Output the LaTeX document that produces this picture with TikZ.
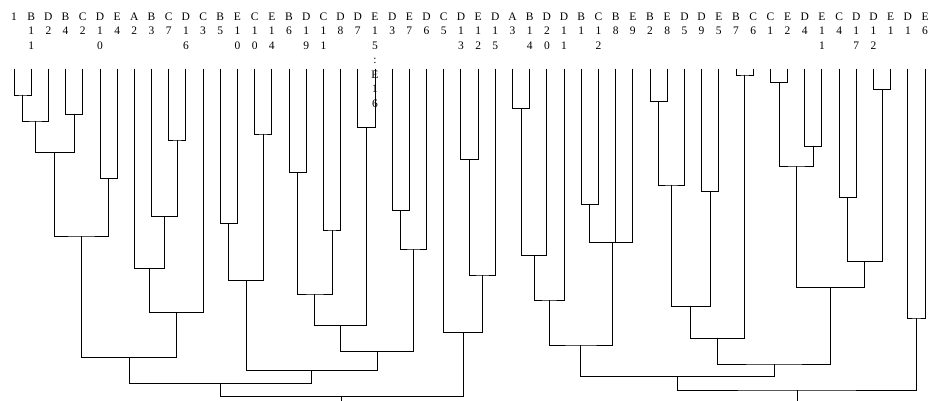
\documentclass[tikz,border=0pt]{standalone}
\usepackage{fontspec}
\setmainfont{Liberation Serif}
\newcommand\vstack[1]{\vtop{\baselineskip=14.5pt\lineskiplimit=-20pt\lineskip=0pt\halign{\hfil##\hfil\cr#1\crcr}}}
\begin{document}
\begin{tikzpicture}[x=1pt,y=-1pt,
  br/.style={line width=0.9pt, black, line cap=rect},
  lab/.style={inner sep=0pt, anchor=base, font=\fontsize{11.5pt}{14.5pt}\selectfont}]
\useasboundingbox (0,0) rectangle (932,401);
\clip (0,0) rectangle (932,401);
% leaves
\foreach \i in {1,...,54} \coordinate (L\i) at ({14+17.19*(\i-1)},69);
% labels
\foreach \i/\t in {1/{1},2/{B\cr 1\cr 1},3/{D\cr 2},4/{B\cr 4},5/{C\cr 2},6/{D\cr 1\cr 0},
  7/{E\cr 4},8/{A\cr 2},9/{B\cr 3},10/{C\cr 7},11/{D\cr 1\cr 6},12/{C\cr 3},13/{B\cr 5},
  14/{E\cr 1\cr 0},15/{C\cr 1\cr 0},16/{E\cr 1\cr 4},17/{B\cr 6},18/{D\cr 1\cr 9},
  19/{C\cr 1\cr 1},20/{D\cr 8},21/{D\cr 7},22/{E\cr 1\cr 5\cr :\cr E\cr 1\cr 6},
  23/{D\cr 3},24/{E\cr 7},25/{D\cr 6},26/{C\cr 5},27/{D\cr 1\cr 3},28/{E\cr 1\cr 2},
  29/{D\cr 1\cr 5},30/{A\cr 3},31/{B\cr 1\cr 4},32/{D\cr 2\cr 0},33/{D\cr 1\cr 1},
  34/{B\cr 1},35/{C\cr 1\cr 2},36/{B\cr 8},37/{E\cr 9},38/{B\cr 2},39/{E\cr 8},
  40/{D\cr 5},41/{D\cr 9},42/{E\cr 5},43/{B\cr 7},44/{C\cr 6},45/{C\cr 1},46/{E\cr 2},
  47/{D\cr 4},48/{E\cr 1\cr 1},49/{C\cr 4},50/{D\cr 1\cr 7},51/{D\cr 1\cr 2},
  52/{E\cr 1},53/{D\cr 1},54/{E\cr 6}}
  \node[lab] (T\i) at ({14+17.19*(\i-1)},20.5) {\vstack{\t}};
% merge points
\coordinate (a1) at (22.6,95);
\coordinate (a2) at (35.5,121);
\coordinate (a3) at (74.2,114.3);
\coordinate (a4) at (54.9,152.7);
\coordinate (a5) at (108.5,178.3);
\coordinate (a6) at (81.7,236);
\coordinate (a7) at (177.3,140);
\coordinate (a8) at (164.4,216.7);
\coordinate (a9) at (149.4,268.3);
\coordinate (a10) at (176.2,312.7);
\coordinate (a11) at (129,357.7);
\coordinate (a12) at (228.9,223.3);
\coordinate (a13) at (263.3,134);
\coordinate (a14) at (246.1,280.7);
\coordinate (a15) at (297.6,172.3);
\coordinate (a16) at (332,230);
\coordinate (a17) at (314.8,294);
\coordinate (a18) at (366.4,127.7);
\coordinate (a19) at (340.6,325.7);
\coordinate (a20) at (400.8,210.7);
\coordinate (a21) at (413.7,249);
\coordinate (a22) at (377.2,351.7);
\coordinate (a23) at (311.6,370.7);
\coordinate (a24) at (220.3,383.3);
\coordinate (a25) at (469.5,159.3);
\coordinate (a26) at (482.4,275);
\coordinate (a27) at (463.1,332.3);
\coordinate (a28) at (341.7,396.7);
\coordinate (r1) at (341.7,410);
\coordinate (b1) at (521.1,108.3);
\coordinate (b2) at (534,255.7);
\coordinate (b3) at (549,300);
\coordinate (b4) at (589.9,204.3);
\coordinate (b5) at (612.8,242.7);
\coordinate (b6) at (580.9,345);
\coordinate (b7) at (658.6,101.7);
\coordinate (b8) at (671.5,185);
\coordinate (b9) at (710.2,191.7);
\coordinate (b10) at (690.9,306.7);
\coordinate (b11) at (744.6,75);
\coordinate (b12) at (717.8,338.3);
\coordinate (c1) at (779,82.7);
\coordinate (c2) at (813.3,146.7);
\coordinate (c3) at (796.2,166);
\coordinate (c4) at (847.7,197.7);
\coordinate (c5) at (882.1,89.3);
\coordinate (c6) at (864.9,261.7);
\coordinate (c7) at (830.6,287.7);
\coordinate (b13) at (774.2,364);
\coordinate (b14) at (677.6,376.7);
\coordinate (d1) at (916.5,318);
\coordinate (b15) at (797,390);
\coordinate (r2) at (797,410);
% branches
\foreach \m/\p/\q in {a1/L1/L2, a2/a1/L3, a3/L4/L5, a4/a2/a3, a5/L6/L7, a6/a4/a5,
  a7/L10/L11, a8/L9/a7, a9/L8/a8, a10/a9/L12, a11/a6/a10, a12/L13/L14, a13/L15/L16,
  a14/a12/a13, a15/L17/L18, a16/L19/L20, a17/a15/a16, a18/L21/L22, a19/a17/a18,
  a20/L23/L24, a21/a20/L25, a22/a19/a21, a23/a14/a22, a24/a11/a23, a25/L27/L28,
  a26/a25/L29, a27/L26/a26, a28/a24/a27,
  b1/L30/L31, b2/b1/L32, b3/b2/L33, b4/L34/L35, b5/b4/L37, b6/b3/b5, b7/L38/L39,
  b8/b7/L40, b9/L41/L42, b10/b8/b9, b11/L43/L44, b12/b10/b11, c1/L45/L46, c2/L47/L48,
  c3/c1/c2, c4/L49/L50, c5/L51/L52, c6/c4/c5, c7/c3/c6, b13/b12/c7, b14/b6/b13,
  d1/L53/L54, b15/b14/d1}
  \draw[br] (\p) |- (\m) -| (\q);
\draw[br] (L36) -- (L36 |- b5);
\draw[br] (a28) -- (r1);
\draw[br] (b15) -- (r2);
\end{tikzpicture}
\end{document}
